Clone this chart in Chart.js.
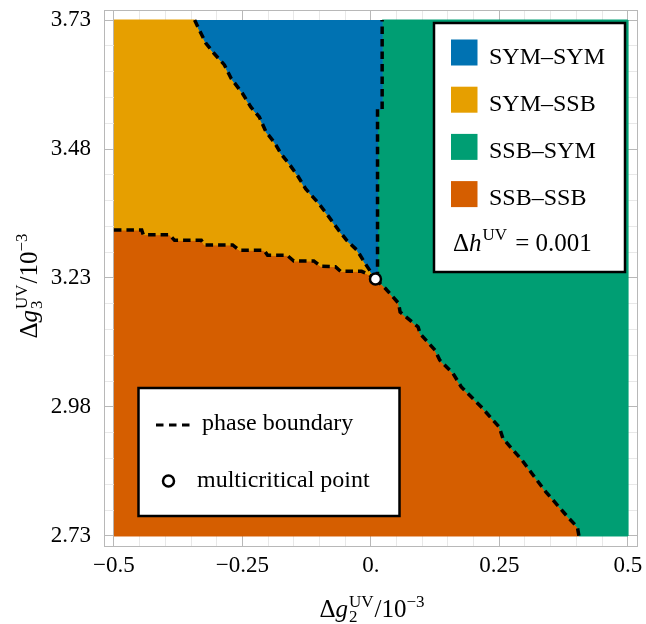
<!DOCTYPE html>
<html>
<head>
<meta charset="utf-8">
<script src="https://cdn.jsdelivr.net/npm/chart.js@4"></script>
<style>
    body { margin: 0; background: #fff; }
    #box { width: 646px; height: 624px; }
</style>
</head>
<body>
<div id="box"><canvas id="phaseChart"></canvas></div>
<script>
var phaseNames = ['SYM–SYM', 'SYM–SSB', 'SSB–SYM', 'SSB–SSB'];
var phaseColors = ['#0072B2', '#E69F00', '#009E73', '#D55E00'];

var xTicks = [-0.5, -0.25, 0, 0.25, 0.5];
var xTickLabels = ['−0.5', '−0.25', '0.', '0.25', '0.5'];
var yTicks = [2.73, 2.98, 3.23, 3.48, 3.73];
var yTickLabels = ['2.73', '2.98', '3.23', '3.48', '3.73'];

var g2Range = [-0.5, 0.5];
var g3Range = [2.73, 3.73];

// phase boundaries, Δg2 and Δg3 in units of 1e-3
var upperG2 = [-0.343, -0.334, -0.321, -0.305, -0.285, -0.272, -0.250, -0.234, -0.217, -0.204, -0.188,
               -0.175, -0.159, -0.143, -0.127, -0.101, -0.082, -0.063, -0.047, -0.027, -0.011, 0.009];
var upperG3 = [3.730, 3.711, 3.685, 3.665, 3.643, 3.617, 3.588, 3.562, 3.542, 3.513, 3.493,
               3.471, 3.451, 3.429, 3.403, 3.374, 3.349, 3.323, 3.303, 3.284, 3.258, 3.228];

var lowerG2 = [-0.5, -0.446, -0.443, -0.392, -0.382, -0.330, -0.324, -0.269, -0.256, -0.208, -0.201,
               -0.163, -0.150, -0.111, -0.098, -0.069, -0.059, -0.018, -0.005, 0.009];
var lowerG3 = [3.323, 3.323, 3.314, 3.314, 3.303, 3.303, 3.294, 3.294, 3.284, 3.284, 3.274,
               3.274, 3.263, 3.263, 3.253, 3.252, 3.243, 3.243, 3.237, 3.228];

var vertG2 = [0.009, 0.013, 0.013, 0.022, 0.022];
var vertG3 = [3.228, 3.240, 3.557, 3.557, 3.730];

var rightG2 = [0.009, 0.028, 0.054, 0.057, 0.092, 0.096, 0.125, 0.134, 0.160, 0.176, 0.202,
               0.215, 0.250, 0.257, 0.295, 0.321, 0.341, 0.363, 0.383, 0.402, 0.405];
var rightG3 = [3.228, 3.210, 3.181, 3.164, 3.135, 3.122, 3.090, 3.071, 3.045, 3.019, 2.993,
               2.980, 2.941, 2.919, 2.876, 2.841, 2.815, 2.790, 2.767, 2.747, 2.730];

var mcpG2 = [0.009];
var mcpG3 = [3.228];

var serif = "'Liberation Serif', 'DejaVu Serif', serif";

function pts(xs, ys) {
    return xs.map(function (x, i) { return { x: x, y: ys[i] }; });
}

// draws a run of text pieces; a piece with sup/sub stacks both at the same x
function richText(ctx, parts, x, y) {
    var w = 0;
    parts.forEach(function (p) {
        ctx.font = p.font;
        if (p.sup !== undefined) {
            p.w = Math.max(ctx.measureText(p.sup).width, ctx.measureText(p.sub || '').width);
        } else {
            p.w = ctx.measureText(p.t).width;
        }
        w += p.w + (p.gap || 0);
    });
    var cx = x - w / 2;
    ctx.textAlign = 'left';
    ctx.textBaseline = 'alphabetic';
    parts.forEach(function (p) {
        ctx.font = p.font;
        if (p.sup !== undefined) {
            ctx.fillText(p.sup, cx, y - 10);
            if (p.sub) ctx.fillText(p.sub, cx, y + 5);
        } else {
            ctx.fillText(p.t, cx, y + (p.dy || 0));
        }
        cx += p.w + (p.gap || 0);
    });
}

function majorLabel(list, labels, v) {
    for (var i = 0; i < list.length; i++) {
        if (Math.abs(list[i] - v) < 1e-6) return labels[i];
    }
    return '';
}

function withMinor(list, step) {
    var out = [];
    for (var v = list[0]; v <= list[list.length - 1] + 1e-9; v += step) out.push(Math.round(v * 1000) / 1000);
    return out;
}

var decorations = {
    id: 'decorations',
    beforeDatasetsDraw: function (chart) {
        var c = chart.ctx, a = chart.chartArea;
        c.save();
        c.strokeStyle = '#b8b8b8';
        c.lineWidth = 1;
        c.strokeRect(a.left + 0.5, a.top + 0.5, a.right - a.left - 1, a.bottom - a.top - 1);
        c.restore();
    },
    afterDraw: function (chart) {
        var c = chart.ctx;
        var main = '25px ' + serif, ital = 'italic 25px ' + serif, small = '17px ' + serif;
        c.save();
        c.fillStyle = '#000';

        // axis titles
        richText(c, [
            { t: 'Δ', font: main }, { t: 'g', font: ital, gap: 1 },
            { sup: 'UV', sub: '2', font: small, gap: 1 },
            { t: '/10', font: main }, { t: '−3', font: small, dy: -10 }
        ], 372, 617);
        c.save();
        c.translate(37, 286);
        c.rotate(-Math.PI / 2);
        richText(c, [
            { t: 'Δ', font: main }, { t: 'g', font: ital, gap: 1 },
            { sup: 'UV', sub: '3', font: small, gap: 1 },
            { t: '/10', font: main }, { t: '−3', font: small, dy: -10 }
        ], 0, 0);
        c.restore();

        // phase legend
        c.fillStyle = '#fff';
        c.fillRect(434, 23, 191, 249);
        c.strokeStyle = '#000';
        c.lineWidth = 2.5;
        c.strokeRect(434, 23, 191, 249);
        var legendFont = '24px ' + serif;
        phaseNames.forEach(function (name, i) {
            var top = 39.5 + i * 47.2;
            c.fillStyle = chart.data.datasets[i].backgroundColor;
            c.fillRect(451, top, 26.5, 26);
            c.fillStyle = '#000';
            c.font = legendFont;
            c.textAlign = 'left';
            c.textBaseline = 'alphabetic';
            c.fillText(name, 489, top + 24);
        });
        var lx = 453;
        c.font = '25px ' + serif;
        c.fillText('Δ', lx, 251);
        lx += c.measureText('Δ').width;
        c.font = 'italic 25px ' + serif;
        c.fillText('h', lx, 251);
        lx += c.measureText('h').width + 1;
        c.font = '17px ' + serif;
        c.fillText('UV', lx, 240);
        lx += c.measureText('UV').width + 8;
        c.font = '25px ' + serif;
        c.fillText('= 0.001', lx, 251);

        // boundary / point legend
        c.fillStyle = '#fff';
        c.fillRect(138.5, 388, 261, 128);
        c.strokeStyle = '#000';
        c.lineWidth = 2.5;
        c.strokeRect(138.5, 388, 261, 128);
        c.beginPath();
        c.setLineDash([7.5, 5.5]);
        c.lineWidth = 3.2;
        c.moveTo(156, 425);
        c.lineTo(190, 425);
        c.stroke();
        c.setLineDash([]);
        c.beginPath();
        c.arc(168.5, 481, 5.5, 0, Math.PI * 2);
        c.fillStyle = '#fff';
        c.fill();
        c.lineWidth = 2.5;
        c.stroke();
        c.fillStyle = '#000';
        c.font = legendFont;
        c.fillText('phase boundary', 202, 430);
        c.fillText('multicritical point', 197, 487);
        c.restore();
    }
};

document.addEventListener('DOMContentLoaded', (event) => {
    var symSym = pts(upperG2, upperG3).concat(pts(vertG2, vertG3).slice(1));
    var symSsb = [{ x: g2Range[0], y: g3Range[1] }].concat(pts(upperG2, upperG3), pts(lowerG2, lowerG3).reverse().slice(1));
    var ssbSym = pts(vertG2, vertG3).concat([{ x: g2Range[1], y: g3Range[1] }, { x: g2Range[1], y: g3Range[0] }],
        pts(rightG2, rightG3).reverse().slice(0, -1));
    var ssbSsb = pts(lowerG2, lowerG3).concat(pts(rightG2, rightG3).slice(1), [{ x: g2Range[0], y: g3Range[0] }]);
    var regions = [symSym, symSsb, ssbSym, ssbSsb];

    var datasets = regions.map(function (r, i) {
        return {
            label: phaseNames[i],
            data: r,
            showLine: true,
            fill: 'shape',
            backgroundColor: phaseColors[i],
            borderColor: phaseColors[i],
            borderWidth: 1,
            pointRadius: 0,
            order: 3
        };
    });
    [[upperG2, upperG3], [lowerG2, lowerG3], [vertG2, vertG3], [rightG2, rightG3]].forEach(function (b) {
        datasets.push({
            label: 'phase boundary',
            data: pts(b[0], b[1]),
            showLine: true,
            fill: false,
            borderColor: '#000',
            borderWidth: 3.5,
            borderDash: [7.5, 5],
            pointRadius: 0,
            order: 2
        });
    });
    datasets.push({
        label: 'multicritical point',
        data: pts(mcpG2, mcpG3),
        pointRadius: 5.5,
        pointBackgroundColor: '#fff',
        pointBorderColor: '#000',
        pointBorderWidth: 2.5,
        order: 1
    });

    var xAll = withMinor(xTicks, 0.05);
    var yAll = withMinor(yTicks, 0.05);

    var ctx = document.getElementById('phaseChart').getContext('2d');
    var phaseChart = new Chart(ctx, {
        type: 'scatter',
        data: { datasets: datasets },
        options: {
            responsive: true,
            maintainAspectRatio: false,
            animation: false,
            layout: { padding: { top: 10, right: 5, left: 0, bottom: 0 } },
            plugins: {
                legend: { display: false },
                tooltip: { enabled: false }
            },
            scales: {
                x: {
                    type: 'linear',
                    min: -0.51935,
                    max: 0.51993,
                    afterBuildTicks: function (axis) { axis.ticks = xAll.map(function (v) { return { value: v }; }); },
                    afterFit: function (axis) {
                        axis.height = 77;
                        axis.paddingLeft = 0;
                        axis.paddingRight = 0;
                    },
                    ticks: {
                        autoSkip: false,
                        maxRotation: 0,
                        padding: 5,
                        color: '#000',
                        font: { family: serif, size: 23 },
                        callback: function (v) { return majorLabel(xTicks, xTickLabels, v); }
                    },
                    grid: {
                        drawTicks: false,
                        color: function (c) { return majorLabel(xTicks, xTickLabels, c.tick ? c.tick.value : NaN) ? '#b8b8b8' : '#e8e8e8'; }
                    },
                    border: { display: false }
                },
                y: {
                    type: 'linear',
                    min: 2.70867,
                    max: 3.74939,
                    afterBuildTicks: function (axis) { axis.ticks = yAll.map(function (v) { return { value: v }; }); },
                    afterFit: function (axis) {
                        axis.width = 104;
                        axis.paddingTop = 0;
                        axis.paddingBottom = 0;
                    },
                    ticks: {
                        autoSkip: false,
                        padding: 13,
                        color: '#000',
                        font: { family: serif, size: 23 },
                        callback: function (v) { return majorLabel(yTicks, yTickLabels, v); }
                    },
                    grid: {
                        drawTicks: false,
                        color: function (c) { return majorLabel(yTicks, yTickLabels, c.tick ? c.tick.value : NaN) ? '#b8b8b8' : '#e8e8e8'; }
                    },
                    border: { display: false }
                }
            }
        },
        plugins: [decorations]
    });
});
</script>
</body>
</html>
